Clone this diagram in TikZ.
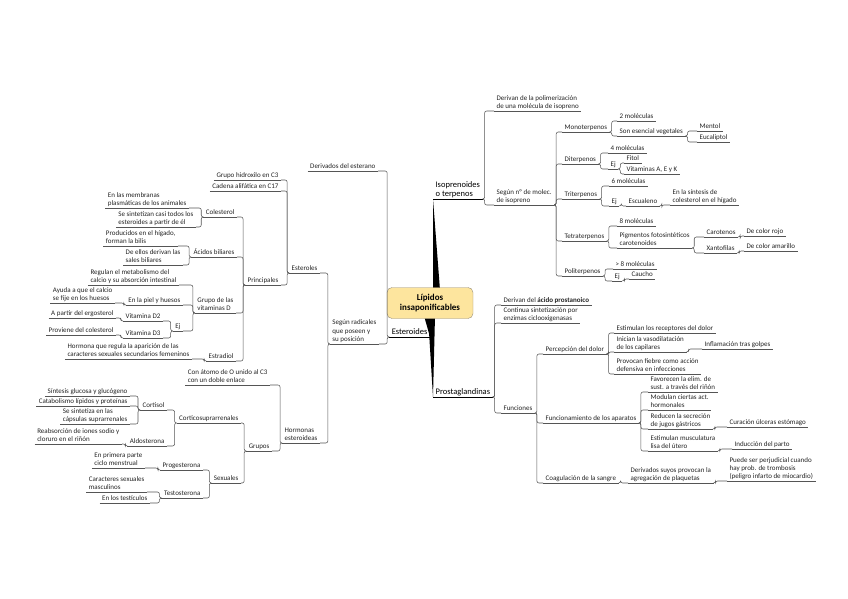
\documentclass[tikz,border=0pt]{standalone}
\usepackage{fontspec}
\setmainfont{Carlito}
\usetikzlibrary{backgrounds}
\definecolor{lineclr}{RGB}{85,85,85}
\definecolor{txtclr}{RGB}{35,35,35}
\definecolor{coreclr}{RGB}{253,229,158}
\definecolor{coreedge}{RGB}{150,140,120}
\tikzset{
  topic/.style={font=\fontsize{7}{8.4}\selectfont, text=txtclr, align=left,
    inner xsep=2.4pt, inner ysep=0.8pt, execute at end node={\vphantom{g}},
    append after command={(\tikzlastnode.south west) edge[draw=lineclr, line width=0.55pt] (\tikzlastnode.south east)}},
  rt/.style={topic, anchor=south west},
  lt/.style={topic, anchor=south east},
  branch/.style={font=\fontsize{8.5}{9.5}\selectfont, text=black,
    append after command={(\tikzlastnode.south west) edge[draw=black, line width=0.6pt] (\tikzlastnode.south east)}},
  rlink/.style={draw=lineclr, line width=0.55pt, rounded corners=2pt, to path={-- ++(2,0) |- (\tikztotarget)}},
  llink/.style={draw=lineclr, line width=0.55pt, rounded corners=2pt, to path={-- ++(-2,0) |- (\tikztotarget)}},
  core/.style={draw=coreedge, fill=coreclr, rounded corners=5pt, minimum width=86pt,
    minimum height=31pt, align=center, font=\fontsize{9}{10}\selectfont\bfseries},
}
\begin{document}
\begin{tikzpicture}[x=1pt, y=-1pt]
\useasboundingbox (0,0) rectangle (848,599);

% centro
\node[core] (lip) at (430,303) {Lípidos\\insaponificables};

% ramas principales
\node[rt, branch] (iso) at (433,199) {Isoprenoides\\o terpenos};
\node[lt, branch] (est) at (430,337) {Esteroides};
\node[rt, branch] (prosta) at (433,397) {Prostaglandinas};

\begin{scope}[on background layer]
  \fill[black] ([xshift=3pt,yshift=-3pt]lip.north) -- (iso.south west) -- ([xshift=10pt,yshift=-3pt]lip.north) -- cycle;
  \fill[black] ([xshift=-2pt,yshift=3pt]lip.south) -- (prosta.south west) -- ([xshift=5pt,yshift=3pt]lip.south) -- cycle;
  \fill[black] ([xshift=-6pt,yshift=3pt]lip.south) -- (est.south east) -- ([xshift=0pt,yshift=3pt]lip.south) -- cycle;
\end{scope}

% isoprenoides
\node[rt] (isoA) at (494,111) {Derivan de la polimerización\\de una molécula de isopreno};
\node[rt] (isoB) at (494,205) {Según nº de molec.\\de isopreno};
\node[rt] (mono) at (562,132) {Monoterpenos};
\node[rt] (di) at (562,164) {Diterpenos};
\node[rt] (tri) at (562,199) {Triterpenos};
\node[rt] (tetra) at (562,241) {Tetraterpenos};
\node[rt] (poli) at (562,276) {Politerpenos};
\node[rt] (mono1) at (617,121) {2 moléculas};
\node[rt] (mono2) at (617,136) {Son esencial vegetales};
\node[rt] (ment) at (697,131) {Mentol};
\node[rt] (euca) at (697,142) {Eucaliptol};
\node[rt] (di1) at (608,153) {4 moléculas};
\node[rt] (diej) at (608,169) {Ej};
\node[rt] (fitol) at (624,163) {Fitol};
\node[rt] (vitak) at (624,174) {Vitaminas A, E y K};
\node[rt] (tri1) at (609,186) {6 moléculas};
\node[rt] (triej) at (609,206) {Ej};
\node[rt] (escu) at (626,206) {Escualeno};
\node[rt] (escu1) at (670,205) {En la síntesis de\\colesterol en el hígado};
\node[rt] (tetra1) at (617,226) {8 moléculas};
\node[rt] (tetra2) at (617,248) {Pigmentos fotosintéticos\\carotenoides};
\node[rt] (caro) at (704,237) {Carotenos};
\node[rt] (xanto) at (704,253) {Xantofilas};
\node[rt] (rojo) at (744,236) {De color rojo};
\node[rt] (amar) at (744,251) {De color amarillo};
\node[rt] (poli1) at (613,269) {> 8 moléculas};
\node[rt] (poliej) at (612,281) {Ej};
\node[rt] (caucho) at (629,279) {Caucho};

\path (iso.south east) edge[rlink] (isoA.south west) edge[rlink] (isoB.south west);
\path (isoB.south east) edge[rlink] (mono.south west) edge[rlink] (di.south west)
  edge[rlink] (tri.south west) edge[rlink] (tetra.south west) edge[rlink] (poli.south west);
\path (mono.south east) edge[rlink] (mono1.south west) edge[rlink] (mono2.south west);
\path (mono2.south east) edge[rlink] (ment.south west) edge[rlink] (euca.south west);
\path (di.south east) edge[rlink] (di1.south west) edge[rlink] (diej.south west);
\path (diej.south east) edge[rlink] (fitol.south west) edge[rlink] (vitak.south west);
\path (tri.south east) edge[rlink] (tri1.south west) edge[rlink] (triej.south west);
\path (triej.south east) edge[rlink] (escu.south west);
\path (escu.south east) edge[rlink] (escu1.south west);
\path (tetra.south east) edge[rlink] (tetra1.south west) edge[rlink] (tetra2.south west);
\path (tetra2.south east) edge[rlink] (caro.south west) edge[rlink] (xanto.south west);
\path (caro.south east) edge[rlink] (rojo.south west);
\path (xanto.south east) edge[rlink] (amar.south west);
\path (poli.south east) edge[rlink] (poli1.south west) edge[rlink] (poliej.south west);
\path (poliej.south east) edge[rlink] (caucho.south west);

% prostaglandinas
\node[rt] (pr1) at (501,305) {Derivan del \textbf{ácido prostanoico}};
\node[rt] (pr2) at (501,323) {Continua sintetización por\\enzimas ciclooxigenasas};
\node[rt] (func) at (501,413) {Funciones};
\node[rt] (perc) at (543,354) {Percepción del dolor};
\node[rt] (funcio) at (543,423) {Funcionamiento de los aparatos};
\node[rt] (coag) at (543,483) {Coagulación de la sangre};
\node[rt] (perc1) at (614,333) {Estimulan los receptores del dolor};
\node[rt] (perc2) at (614,352) {Inician la vasodilatación\\de los capilares};
\node[rt] (perc3) at (614,374) {Provocan fiebre como acción\\defensiva en infecciones};
\node[rt] (infl) at (702,349) {Inflamación tras golpes};
\node[rt] (ap1) at (648,392) {Favorecen la elim. de\\sust. a través del riñón};
\node[rt] (ap2) at (648,410) {Modulan ciertas act.\\hormonales};
\node[rt] (ap3) at (648,429) {Reducen la secreción\\de jugos gástricos};
\node[rt] (ap4) at (648,451) {Estimulan musculatura\\lisa del útero};
\node[rt] (ulc) at (727,427) {Curación úlceras estómago};
\node[rt] (parto) at (732,449) {Inducción del parto};
\node[rt] (coag1) at (628,483) {Derivados suyos provocan la\\agregación de plaquetas};
\node[rt] (coag2) at (727,481) {Puede ser perjudicial cuando\\hay prob. de trombosis\\(peligro infarto de miocardio)};

\path (prosta.south east) edge[rlink] (pr1.south west) edge[rlink] (pr2.south west) edge[rlink] (func.south west);
\path (func.south east) edge[rlink] (perc.south west) edge[rlink] (funcio.south west) edge[rlink] (coag.south west);
\path (perc.south east) edge[rlink] (perc1.south west) edge[rlink] (perc2.south west) edge[rlink] (perc3.south west);
\path (perc2.south east) edge[rlink] (infl.south west);
\path (funcio.south east) edge[rlink] (ap1.south west) edge[rlink] (ap2.south west)
  edge[rlink] (ap3.south west) edge[rlink] (ap4.south west);
\path (ap3.south east) edge[rlink] (ulc.south west);
\path (ap4.south east) edge[rlink] (parto.south west);
\path (coag.south east) edge[rlink] (coag1.south west);
\path (coag1.south east) edge[rlink] (coag2.south west);

% esteroides
\node[lt] (es1) at (378,171) {Derivados del esterano};
\node[lt] (es2) at (379,344) {Según radicales\\que poseen y\\su posición};
\node[lt] (esterol) at (320,273) {Esteroles};
\node[lt] (horm) at (320,443) {Hormonas\\esteroideas};
\node[lt] (grh) at (281,180) {Grupo hidroxilo en C3};
\node[lt] (cad) at (281,191) {Cadena alifática en C17};
\node[lt] (princ) at (281,285) {Principales};
\node[lt] (col) at (237,217) {Colesterol};
\node[lt] (acb) at (237,257) {Ácidos biliares};
\node[lt] (vitd) at (236,313) {Grupo de las\\vitaminas D};
\node[lt] (estr) at (236,361) {Estradiol};
\node[lt] (col1) at (189,208) {En las membranas\\plasmáticas de los animales};
\node[lt] (col2) at (196,227) {Se sintetizan casi todos los\\esteroides a partir de él};
\node[lt] (acb1) at (178,246) {Producidos en el hígado,\\forman la bilis};
\node[lt] (acb2) at (183,265) {De ellos derivan las\\sales biliares};
\node[lt] (vd1) at (179,285) {Regulan el metabolismo del\\calcio y su absorción intestinal};
\node[lt] (vd2) at (183,305) {En la piel y huesos};
\node[lt] (vdej) at (183,331) {Ej};
\node[lt] (ayu) at (115,303) {Ayuda a que el calcio\\se fije en los huesos};
\node[lt] (d2) at (163,321) {Vitamina D2};
\node[lt] (d3) at (163,338) {Vitamina D3};
\node[lt] (ergo) at (116,318) {A partir del ergosterol};
\node[lt] (prov) at (116,335) {Proviene del colesterol};
\node[lt] (estr1) at (192,359) {Hormona que regula la aparición de las\\caracteres sexuales secundarios femeninos};
\node[lt] (atomo) at (270,385) {Con átomo de O unido al C3\\con un doble enlace};
\node[lt] (grupos) at (272,451) {Grupos};
\node[lt] (cort) at (241,423) {Corticosuprarrenales};
\node[lt] (sex) at (241,483) {Sexuales};
\node[lt] (cortisol) at (167,410) {Cortisol};
\node[lt] (aldo) at (167,446) {Aldosterona};
\node[lt] (cs1) at (130,396) {Síntesis glucosa y glucógeno};
\node[lt] (cs2) at (130,406) {Catabolismo lípidos y proteínas};
\node[lt] (cs3) at (130,424) {Se sintetiza en las\\cápsulas suprarrenales};
\node[lt] (reab) at (122,444) {Reabsorción de iones sodio y\\cloruro en el riñón};
\node[lt] (prog) at (203,470) {Progesterona};
\node[lt] (test) at (203,498) {Testosterona};
\node[lt] (prog1) at (145,468) {En primera parte\\ciclo menstrual};
\node[lt] (test1) at (147,492) {Caracteres sexuales\\masculinos};
\node[lt] (test2) at (150,503) {En los testículos};

\path (est.south west) edge[llink] (es1.south east) edge[llink] (es2.south east);
\path (es2.south west) edge[llink] (esterol.south east) edge[llink] (horm.south east);
\path (esterol.south west) edge[llink] (grh.south east) edge[llink] (cad.south east) edge[llink] (princ.south east);
\path (princ.south west) edge[llink] (col.south east) edge[llink] (acb.south east)
  edge[llink] (vitd.south east) edge[llink] (estr.south east);
\path (col.south west) edge[llink] (col1.south east) edge[llink] (col2.south east);
\path (acb.south west) edge[llink] (acb1.south east) edge[llink] (acb2.south east);
\path (vitd.south west) edge[llink] (vd1.south east) edge[llink] (vd2.south east) edge[llink] (vdej.south east);
\path (vd2.south west) edge[llink] (ayu.south east);
\path (vdej.south west) edge[llink] (d2.south east) edge[llink] (d3.south east);
\path (d2.south west) edge[llink] (ergo.south east);
\path (d3.south west) edge[llink] (prov.south east);
\path (estr.south west) edge[llink] (estr1.south east);
\path (horm.south west) edge[llink] (atomo.south east) edge[llink] (grupos.south east);
\path (grupos.south west) edge[llink] (cort.south east) edge[llink] (sex.south east);
\path (cort.south west) edge[llink] (cortisol.south east) edge[llink] (aldo.south east);
\path (cortisol.south west) edge[llink] (cs1.south east) edge[llink] (cs2.south east) edge[llink] (cs3.south east);
\path (aldo.south west) edge[llink] (reab.south east);
\path (sex.south west) edge[llink] (prog.south east) edge[llink] (test.south east);
\path (prog.south west) edge[llink] (prog1.south east);
\path (test.south west) edge[llink] (test1.south east) edge[llink] (test2.south east);
\end{tikzpicture}
\end{document}
